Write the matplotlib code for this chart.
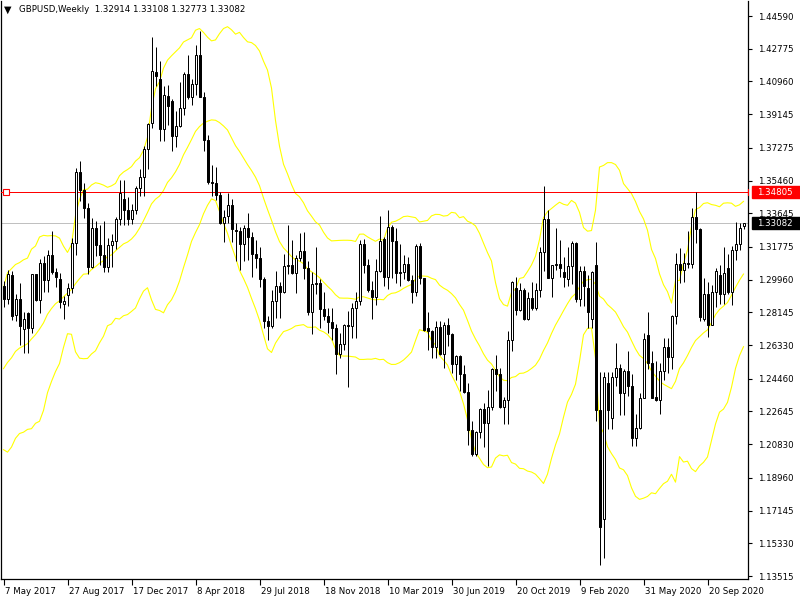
import matplotlib
matplotlib.use('Agg')
import matplotlib.pyplot as plt
import numpy as np
import pandas as pd
from matplotlib.transforms import ScaledTranslation

# ---------------- data ----------------
title_text = "GBPUSD,Weekly  1.32914 1.33108 1.32773 1.33082"

# 19 weekly closes before the first visible bar (needed for Bollinger 20)
pre_closes = [1.2340, 1.2280, 1.2180, 1.2370, 1.2550, 1.2480, 1.2490, 1.2410, 1.2480,
              1.2300, 1.2180, 1.2400, 1.2480, 1.2550, 1.2430, 1.2535, 1.2800, 1.2950, 1.2950]

opens = [
    1.2960, 1.2886, 1.3020, 1.2800, 1.2890, 1.2720, 1.2810, 1.2730, 1.3025, 1.2885,
    1.3090, 1.2995, 1.3135, 1.3040, 1.3000, 1.2860, 1.2910, 1.2950, 1.3200, 1.3595,
    1.3495, 1.3395, 1.3065, 1.3280, 1.3190, 1.3130, 1.3065, 1.3190, 1.3210, 1.3330,
    1.3445, 1.3385, 1.3335, 1.3380, 1.3505, 1.3565, 1.3720, 1.3865, 1.4150, 1.4110,
    1.3830, 1.4015, 1.3990, 1.3795, 1.3850, 1.3950, 1.4135, 1.4010, 1.4080, 1.4240,
    1.4010, 1.3770, 1.3540, 1.3530, 1.3465, 1.3310, 1.3350, 1.3410, 1.3270, 1.3265,
    1.3195, 1.3285, 1.3230, 1.3140, 1.3115, 1.3000, 1.2765, 1.2740, 1.2880, 1.2960,
    1.2925, 1.3070, 1.3075, 1.3035, 1.3115, 1.3155, 1.3060, 1.2815, 1.2970, 1.2975,
    1.2835, 1.2795, 1.2760, 1.2730, 1.2585, 1.2640, 1.2745, 1.2740, 1.2840, 1.2880,
    1.3195, 1.3075, 1.2940, 1.2900, 1.3045, 1.3220, 1.3010, 1.3290, 1.3210, 1.3035,
    1.3040, 1.3085, 1.2995, 1.2925, 1.3180, 1.3005, 1.2725, 1.2710, 1.2625, 1.2735,
    1.2585, 1.2745, 1.2695, 1.2530, 1.2575, 1.2475, 1.2375, 1.2160, 1.2030, 1.2150,
    1.2280, 1.2200, 1.2290, 1.2500, 1.2475, 1.2290, 1.2330, 1.2660, 1.2950, 1.2830,
    1.2940, 1.2780, 1.2895, 1.2840, 1.2940, 1.3150, 1.3330, 1.3005, 1.3075, 1.3085,
    1.3040, 1.3000, 1.3070, 1.3200, 1.2890, 1.3045, 1.2950, 1.2775, 1.3075, 1.2275,
    1.1670, 1.2425, 1.2230, 1.2455, 1.2505, 1.2365, 1.2490, 1.2405, 1.2120, 1.2170,
    1.2340, 1.2690, 1.2535, 1.2345, 1.2330, 1.2490, 1.2620, 1.2565, 1.2795, 1.3085,
    1.3050, 1.3090, 1.3085, 1.3345, 1.3275, 1.2775, 1.2915, 1.2745, 1.2930, 1.3020,
    1.2915, 1.3060, 1.2930, 1.3160, 1.3195, 1.32914]

highs = [
    1.2990, 1.3048, 1.3044, 1.2914, 1.2977, 1.2815, 1.2815, 1.3030, 1.3030, 1.3113,
    1.3126, 1.3160, 1.3267, 1.3060, 1.3035, 1.2905, 1.2980, 1.3225, 1.3615, 1.3656,
    1.3530, 1.3420, 1.3337, 1.3320, 1.3300, 1.3320, 1.3225, 1.3250, 1.3345, 1.3550,
    1.3550, 1.3455, 1.3415, 1.3515, 1.3612, 1.3740, 1.3865, 1.4345, 1.4285, 1.4210,
    1.4070, 1.4075, 1.4000, 1.3930, 1.4090, 1.4150, 1.4245, 1.4110, 1.4300, 1.4377,
    1.4040, 1.3800, 1.3630, 1.3620, 1.3485, 1.3385, 1.3475, 1.3445, 1.3310, 1.3290,
    1.3300, 1.3365, 1.3260, 1.3215, 1.3175, 1.3010, 1.2795, 1.2940, 1.3045, 1.2985,
    1.3140, 1.3300, 1.3215, 1.3130, 1.3255, 1.3260, 1.3100, 1.3040, 1.3175, 1.3000,
    1.2925, 1.2840, 1.2840, 1.2750, 1.2700, 1.2750, 1.2820, 1.2865, 1.2930, 1.3215,
    1.3220, 1.3110, 1.2990, 1.3110, 1.3350, 1.3230, 1.3380, 1.3300, 1.3280, 1.3195,
    1.3135, 1.3120, 1.3020, 1.3195, 1.3200, 1.3005, 1.2815, 1.2715, 1.2765, 1.2765,
    1.2760, 1.2785, 1.2700, 1.2580, 1.2580, 1.2520, 1.2420, 1.2210, 1.2155, 1.2285,
    1.2310, 1.2385, 1.2505, 1.2580, 1.2505, 1.2345, 1.2710, 1.2990, 1.3013, 1.2975,
    1.2950, 1.2930, 1.2985, 1.2980, 1.3175, 1.3515, 1.3380, 1.3080, 1.3285, 1.3215,
    1.3120, 1.3175, 1.3210, 1.3205, 1.3070, 1.3070, 1.3020, 1.3045, 1.3205, 1.2485,
    1.2485, 1.2485, 1.2485, 1.2647, 1.2530, 1.2500, 1.2600, 1.2470, 1.2250, 1.2365,
    1.2700, 1.2815, 1.2600, 1.2545, 1.2535, 1.2670, 1.2670, 1.2800, 1.3145, 1.3170,
    1.3145, 1.3265, 1.3395, 1.3482, 1.3285, 1.3005, 1.2985, 1.2965, 1.3060, 1.3080,
    1.3175, 1.3140, 1.3180, 1.3315, 1.3310, 1.33108]

lows = [
    1.2843, 1.2860, 1.2773, 1.2767, 1.2635, 1.2590, 1.2587, 1.2700, 1.2880, 1.2810,
    1.2930, 1.2930, 1.3030, 1.2955, 1.2840, 1.2775, 1.2850, 1.2920, 1.3135, 1.3435,
    1.3340, 1.3030, 1.3060, 1.3125, 1.3080, 1.3040, 1.3040, 1.3065, 1.3165, 1.3300,
    1.3300, 1.3300, 1.3305, 1.3360, 1.3460, 1.3460, 1.3610, 1.3840, 1.4070, 1.3765,
    1.3765, 1.3855, 1.3711, 1.3730, 1.3845, 1.3910, 1.4000, 1.3965, 1.4020, 1.4010,
    1.3712, 1.3525, 1.3460, 1.3440, 1.3305, 1.3205, 1.3310, 1.3205, 1.3100, 1.3050,
    1.3100, 1.3105, 1.3010, 1.3060, 1.2955, 1.2725, 1.2661, 1.2725, 1.2785, 1.2785,
    1.2920, 1.3030, 1.3030, 1.2920, 1.3100, 1.3000, 1.2800, 1.2695, 1.2915, 1.2725,
    1.2770, 1.2700, 1.2660, 1.2475, 1.2560, 1.2605, 1.2400, 1.2670, 1.2670, 1.2855,
    1.3035, 1.2925, 1.2775, 1.2855, 1.3040, 1.2960, 1.2945, 1.3005, 1.2980, 1.2960,
    1.3000, 1.2990, 1.2865, 1.2905, 1.2970, 1.2710, 1.2605, 1.2560, 1.2560, 1.2580,
    1.2505, 1.2630, 1.2480, 1.2440, 1.2380, 1.2365, 1.2080, 1.2015, 1.2015, 1.2115,
    1.2070, 1.1960, 1.2270, 1.2380, 1.2285, 1.2195, 1.2195, 1.2600, 1.2800, 1.2820,
    1.2770, 1.2770, 1.2825, 1.2825, 1.2900, 1.3045, 1.3005, 1.2900, 1.3050, 1.3010,
    1.2955, 1.2960, 1.2970, 1.2870, 1.2850, 1.2850, 1.2725, 1.2725, 1.2210, 1.1410,
    1.1450, 1.2165, 1.2165, 1.2405, 1.2245, 1.2245, 1.2350, 1.2075, 1.2075, 1.2165,
    1.2340, 1.2500, 1.2340, 1.2320, 1.2250, 1.2440, 1.2480, 1.2500, 1.2750, 1.2980,
    1.2985, 1.3060, 1.3060, 1.3200, 1.2765, 1.2765, 1.2675, 1.2745, 1.2845, 1.2860,
    1.2860, 1.2915, 1.2855, 1.3105, 1.3160, 1.32773]

closes = [
    1.2886, 1.3030, 1.2795, 1.2890, 1.2740, 1.2780, 1.2730, 1.3025, 1.2885, 1.3090,
    1.2995, 1.3135, 1.3040, 1.3010, 1.2870, 1.2880, 1.2950, 1.3200, 1.3595, 1.3495,
    1.3395, 1.3065, 1.3280, 1.3190, 1.3130, 1.3065, 1.3190, 1.3210, 1.3330, 1.3475,
    1.3385, 1.3335, 1.3380, 1.3505, 1.3565, 1.3720, 1.3860, 1.4155, 1.4125, 1.3830,
    1.4020, 1.3960, 1.3795, 1.3850, 1.3950, 1.4135, 1.4010, 1.4080, 1.4240, 1.4010,
    1.3770, 1.3540, 1.3530, 1.3465, 1.3310, 1.3345, 1.3410, 1.3275, 1.3265, 1.3195,
    1.3285, 1.3230, 1.3140, 1.3115, 1.3000, 1.2765, 1.2740, 1.2880, 1.2960, 1.2925,
    1.3070, 1.3075, 1.3035, 1.3115, 1.3155, 1.3060, 1.2815, 1.2970, 1.2975, 1.2835,
    1.2795, 1.2760, 1.2730, 1.2585, 1.2640, 1.2745, 1.2740, 1.2840, 1.2880, 1.3195,
    1.3075, 1.2940, 1.2900, 1.3045, 1.3210, 1.3010, 1.3290, 1.3210, 1.3035, 1.3040,
    1.3085, 1.2995, 1.2925, 1.3180, 1.3005, 1.2715, 1.2710, 1.2625, 1.2735, 1.2585,
    1.2745, 1.2695, 1.2530, 1.2575, 1.2475, 1.2375, 1.2160, 1.2030, 1.2150, 1.2280,
    1.2200, 1.2290, 1.2500, 1.2475, 1.2290, 1.2330, 1.2660, 1.2985, 1.2830, 1.2940,
    1.2780, 1.2895, 1.2840, 1.2940, 1.3150, 1.3330, 1.3005, 1.3075, 1.3085, 1.3060,
    1.3010, 1.3070, 1.3200, 1.2890, 1.3045, 1.2960, 1.2815, 1.3040, 1.2275, 1.1625,
    1.2455, 1.2275, 1.2455, 1.2505, 1.2365, 1.2490, 1.2405, 1.2120, 1.2170, 1.2340,
    1.2665, 1.2535, 1.2340, 1.2330, 1.2490, 1.2620, 1.2565, 1.2795, 1.3085, 1.3050,
    1.3090, 1.3085, 1.3345, 1.3275, 1.2790, 1.2915, 1.2745, 1.2930, 1.3045, 1.2915,
    1.3035, 1.2930, 1.3160, 1.3195, 1.3285, 1.33082]

date_labels = ['7 May 2017', '27 Aug 2017', '17 Dec 2017', '8 Apr 2018', '29 Jul 2018',
               '18 Nov 2018', '10 Mar 2019', '30 Jun 2019', '20 Oct 2019', '9 Feb 2020',
               '31 May 2020', '20 Sep 2020']
date_label_bars = [0, 16, 32, 48, 64, 80, 96, 112, 128, 144, 160, 176]

price_ticks = [1.44590, 1.42775, 1.40960, 1.39145, 1.37275, 1.35460, 1.33645, 1.31775,
               1.29960, 1.28145, 1.26330, 1.24460, 1.22645, 1.20830, 1.18960, 1.17145,
               1.15330, 1.13515]

hline_level = 1.34805
bid_level = 1.33082

# ---------------- layout (pixel based) ----------------
W, H = 800, 600
FONT = 'DejaVu Sans'
FS = 6.2
LW = 0.72  # one pixel at 100 dpi
plt.rcParams['font.family'] = [FONT]

fig = plt.figure(figsize=(W / 100, H / 100), dpi=100)
fig.patch.set_facecolor('white')

left_px, right_px, top_px, bot_px = 1, 748, 1, 579
ax = fig.add_axes([left_px / W, 1 - bot_px / H, (right_px - left_px) / W, (bot_px - top_px) / H])
ax.set_facecolor('white')

px_per_unit = 560 / (1.44590 - 1.13515)
y_top = 1.44590 + (16 - top_px) / px_per_unit
y_bot = 1.44590 - (bot_px - 16) / px_per_unit
ax.set_ylim(y_bot, y_top)
# bar i sits on the centre of pixel column 3 + 4*i
ax.set_xlim((left_px - 3.5) / 4, (right_px - 3.5) / 4)

o = np.array(opens); h = np.array(highs); l = np.array(lows); c = np.array(closes)
n = len(c)
x = np.arange(n)

# Bollinger bands (20, 2)
allc = pd.Series(pre_closes + closes)
mid = allc.rolling(20).mean().values[len(pre_closes):]
sd = allc.rolling(20).std(ddof=0).values[len(pre_closes):]
upper = mid + 2 * sd
lower = mid - 2 * sd
for band in (upper, mid, lower):
    ax.plot(x, band, color='#FFFF00', lw=0.8, zorder=2)

# price lines
ax.axhline(bid_level, color='#C0C0C0', lw=LW, zorder=1)
ax.axhline(hline_level, color='#FF0000', lw=LW, zorder=3)
ax.plot([(5.5 - 3.5) / 4], [hline_level], marker='s', ms=3.8, mfc='white', mec='#FF0000',
        mew=0.8, zorder=4, clip_on=False)
ax.plot([(750.5 - 3.5) / 4], [hline_level], marker='s', ms=3.8, mfc='white', mec='#FF0000',
        mew=0.8, zorder=4, clip_on=True)

# candles
ax.vlines(x, l, h, color='black', lw=LW, zorder=5)
bull = c >= o
body_bottom = np.minimum(o, c)
body_h = np.abs(c - o)
ax.bar(x[bull], body_h[bull], bottom=body_bottom[bull], width=0.5,
       color='white', edgecolor='black', linewidth=LW, zorder=6)
ax.bar(x[~bull], body_h[~bull], bottom=body_bottom[~bull], width=0.5,
       color='black', edgecolor='black', linewidth=LW, zorder=6)

# axes styling
for s in ('left', 'right', 'bottom'):
    ax.spines[s].set_color('black')
    ax.spines[s].set_linewidth(0.9)
ax.spines['top'].set_visible(False)

ax.yaxis.tick_right()
ax.set_yticks(price_ticks)
ax.set_yticklabels(['%.5f' % v for v in price_ticks])
ax.tick_params(axis='y', direction='out', length=3, width=0.8, colors='black',
               labelsize=FS, pad=4)

ax.set_xticks(date_label_bars)
ax.set_xticklabels(date_labels)
ax.tick_params(axis='x', direction='out', length=4, width=0.8, colors='black',
               labelsize=FS, pad=2)
offset = ScaledTranslation(1.5 / 100, 0, fig.dpi_scale_trans)
for lab in ax.get_xticklabels():
    lab.set_horizontalalignment('left')
    lab.set_transform(lab.get_transform() + offset)

# price tags on the right scale
def tag(value, face, text):
    ypix = 16 + (1.44590 - value) * px_per_unit
    fig.patches.append(plt.Rectangle((752 / W, 1 - (ypix + 6) / H), 48 / W, 12 / H,
                                     transform=fig.transFigure, facecolor=face,
                                     edgecolor=face, zorder=10))
    fig.text(757 / W, 1 - ypix / H, text, color='white', fontsize=FS, va='center',
             ha='left', zorder=11)

tag(hline_level, '#FF0000', '%.5f' % hline_level)
tag(bid_level, '#000000', '%.5f' % bid_level)

# title
fig.text(4 / W, 1 - 10 / H, '\u25BC', fontsize=7, va='center', ha='left', color='black')
fig.text(19 / W, 1 - 10 / H, title_text, fontsize=FS, va='center', ha='left', color='black')

fig.savefig('out.png', dpi=100, facecolor='white')
